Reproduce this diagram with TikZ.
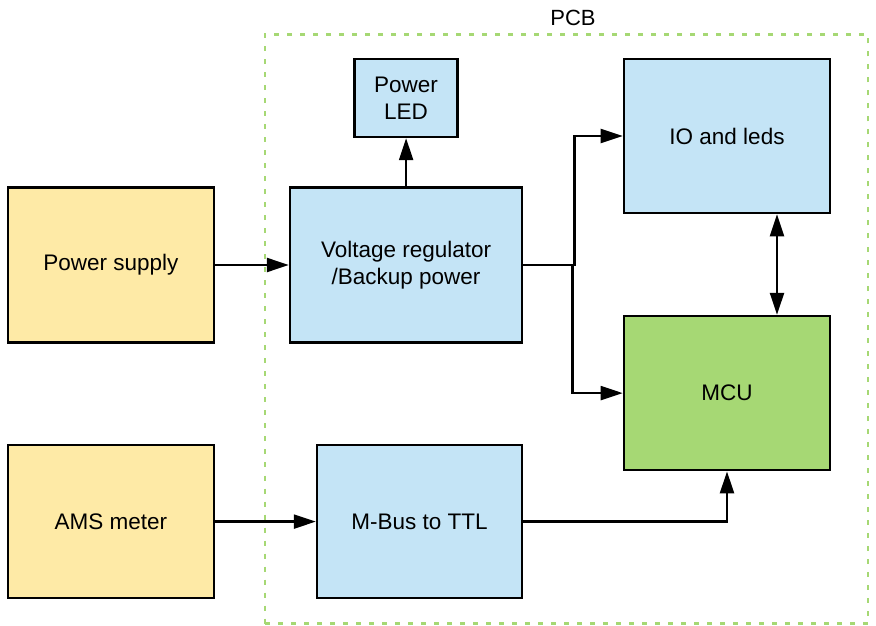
\documentclass[tikz,border=0pt]{standalone}
\usepackage{fontspec}
\setmainfont{Liberation Sans}
\usetikzlibrary{positioning,arrows.meta}
\definecolor{supplyfill}{HTML}{FEEAA6}
\definecolor{boardfill}{HTML}{C4E4F6}
\definecolor{mcufill}{HTML}{A6D874}
\begin{document}
\begin{tikzpicture}[x=1pt, y=1pt,
  block/.style={draw, line width=2.6pt, align=center, inner sep=0pt,
    minimum width=206pt, minimum height=155pt,
    font=\fontsize{22.5}{27}\selectfont},
  supply/.style={block, fill=supplyfill},
  board/.style={block, fill=boardfill},
  mcubox/.style={block, fill=mcufill},
  flow/.style={line width=2.3pt, -{Triangle[length=22pt,width=14pt]}},
  both/.style={line width=2.3pt, {Triangle[length=22pt,width=14pt]}-{Triangle[length=22pt,width=14pt]}}]
  \useasboundingbox (0,0) rectangle (876,625);
  % PCB frame
  \node[draw=mcufill, line width=2.6pt, dash pattern=on 5pt off 8pt,
        minimum width=603pt, minimum height=589pt, inner sep=0pt] (pcb) at (566.5,296) {};
  \node[font=\fontsize{22}{27}\selectfont] (pcblabel) at (573,607) {PCB};
  % blocks
  \node[supply] (psu) at (111,360) {Power supply};
  \node[supply, minimum height=153pt] (ams) [below=100pt of psu] {AMS meter};
  \node[board, minimum width=232pt] (vreg) [right=73.5pt of psu] {Voltage regulator\\/Backup power};
  \node[board, minimum width=103pt, minimum height=78pt] (led) [above=48pt of vreg] {Power\\LED};
  \node[board, minimum width=205pt, minimum height=153pt] (mbus) [right=100.5pt of ams] {M-Bus to TTL};
  \node[board, minimum height=154pt] (io) at (727,489) {IO and leds};
  \node[mcubox, minimum height=154pt] (mcu) [below=100.5pt of io] {MCU};
  % connections
  \coordinate (split) at ([xshift=51pt]vreg.east);
  \draw[flow] (psu) -- (vreg);
  \draw[flow] (vreg.north) -- (vreg.north |- led.south);
  \draw[flow] (vreg.east) -- (split) |- (io.west);
  \draw[flow] ([xshift=-2pt]split) |- (mcu.west);
  \draw[both] ([xshift=50pt]io.south) -- ([xshift=50pt]mcu.north);
  \draw[flow] (ams) -- (mbus);
  \draw[flow] (mbus.east) -| (mcu.south);
\end{tikzpicture}
\end{document}
